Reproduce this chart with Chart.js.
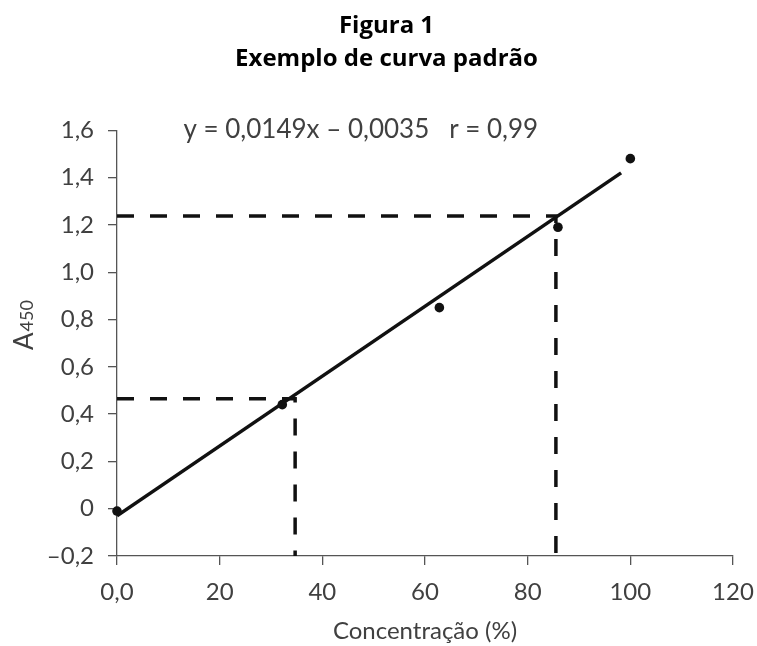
<!DOCTYPE html>
<html>
<head>
<meta charset="utf-8">
<script src="https://cdn.jsdelivr.net/npm/chart.js@4.4.1/dist/chart.umd.min.js"></script>
<style>
  html, body { margin: 0; padding: 0; background: #fff; }
  #wrap { width: 757px; height: 646px; }
</style>
</head>
<body>
<div id="wrap"><canvas id="chart" width="757" height="646"></canvas></div>
<script>
// measured standards (concentration %, A450)
const conc = [0, 32.2, 62.8, 85.9, 100];
const absorb = [-0.01, 0.44, 0.85, 1.19, 1.48];

// fitted line as drawn in the figure
const fitX = [0, 98.2];
const fitY = [-0.03, 1.42];

// read-off guides (dashed)
const guideHighX = [0, 85.5, 85.5];
const guideHighY = [1.238, 1.238, -0.2];
const guideLowX = [0, 34.7, 34.7];
const guideLowY = [0.465, 0.465, -0.2];

const xRange = [0, 120, 20];
const yRange = [-0.2, 1.6, 0.2];

const INK = "#111";
const GREY = "#404040";
const AXIS = "#555";
const LABEL_FONT = { family: "Lato", size: 24, weight: 400 };

const pts = (xs, ys) => xs.map((x, i) => ({ x, y: ys[i] }));

const fmtY = v => {
  if (Math.abs(v) < 1e-9) return "0";
  const s = Math.abs(v).toFixed(1).replace(".", ",");
  return v < 0 ? "\u2013" + s : s;
};
const fmtX = v => (v === 0 ? "0,0" : String(Math.round(v)));

const extras = {
  id: "extras",
  afterDraw(c) {
    const { ctx, scales: { x, y } } = c;
    ctx.save();
    ctx.fillStyle = GREY;
    // regression equation
    ctx.font = "26px Lato";
    ctx.textAlign = "center";
    ctx.textBaseline = "alphabetic";
    ctx.fillText("y = 0,0149x \u2013 0,0035   r = 0,99", x.getPixelForValue(47.5), y.getPixelForValue(1.6) + 8);
    // y axis title with subscript
    ctx.translate(33, 350);
    ctx.rotate(-Math.PI / 2);
    ctx.textAlign = "left";
    ctx.font = "26px Lato";
    ctx.fillText("A", 0, 0);
    const w = ctx.measureText("A").width;
    ctx.font = "18px Lato";
    ctx.fillText("450", w + 1, 0);
    ctx.restore();
  }
};

const lineSet = (data, dashed) => ({
  type: "scatter",
  data,
  showLine: true,
  borderColor: INK,
  borderWidth: 3.5,
  borderDash: dashed ? [17, 16] : [],
  pointRadius: 0,
  fill: false
});

new Chart(document.getElementById("chart"), {
  type: "scatter",
  data: {
    datasets: [
      lineSet(pts(guideHighX, guideHighY), true),
      lineSet(pts(guideLowX, guideLowY), true),
      lineSet(pts(fitX, fitY), false),
      {
        data: pts(conc, absorb),
        pointRadius: 4.8,
        pointBackgroundColor: INK,
        pointBorderWidth: 0,
        clip: false
      }
    ]
  },
  options: {
    responsive: false,
    animation: false,
    layout: { padding: { left: 16, right: 0, top: 0, bottom: 0 } },
    plugins: {
      legend: { display: false },
      tooltip: { enabled: false },
      title: {
        display: true,
        text: ["Figura 1", "Exemplo de curva padrão"],
        color: "#000",
        font: { family: "'Open Sans'", size: 24, weight: "bold", lineHeight: 1.36 },
        padding: { top: 10, bottom: 55 }
      }
    },
    scales: {
      x: {
        type: "linear",
        min: xRange[0], max: xRange[1],
        afterFit: s => { s.height = 90; s.paddingRight = 24; },
        ticks: { stepSize: xRange[2], color: GREY, font: LABEL_FONT, padding: 13, callback: fmtX },
        grid: { drawOnChartArea: false, tickLength: 9, color: AXIS, lineWidth: 1.3 },
        border: { color: AXIS, width: 1.3 },
        title: { display: true, text: "Concentração (%)", color: GREY, font: LABEL_FONT, padding: { top: 0, bottom: 0 } }
      },
      y: {
        type: "linear",
        min: yRange[0], max: yRange[1],
        afterFit: s => { s.width = 101; },
        ticks: { stepSize: yRange[2], color: GREY, font: LABEL_FONT, padding: 14, callback: fmtY },
        grid: { drawOnChartArea: false, tickLength: 9, color: AXIS, lineWidth: 1.3 },
        border: { color: AXIS, width: 1.3 }
      }
    }
  },
  plugins: [extras]
});
</script>
</body>
</html>
